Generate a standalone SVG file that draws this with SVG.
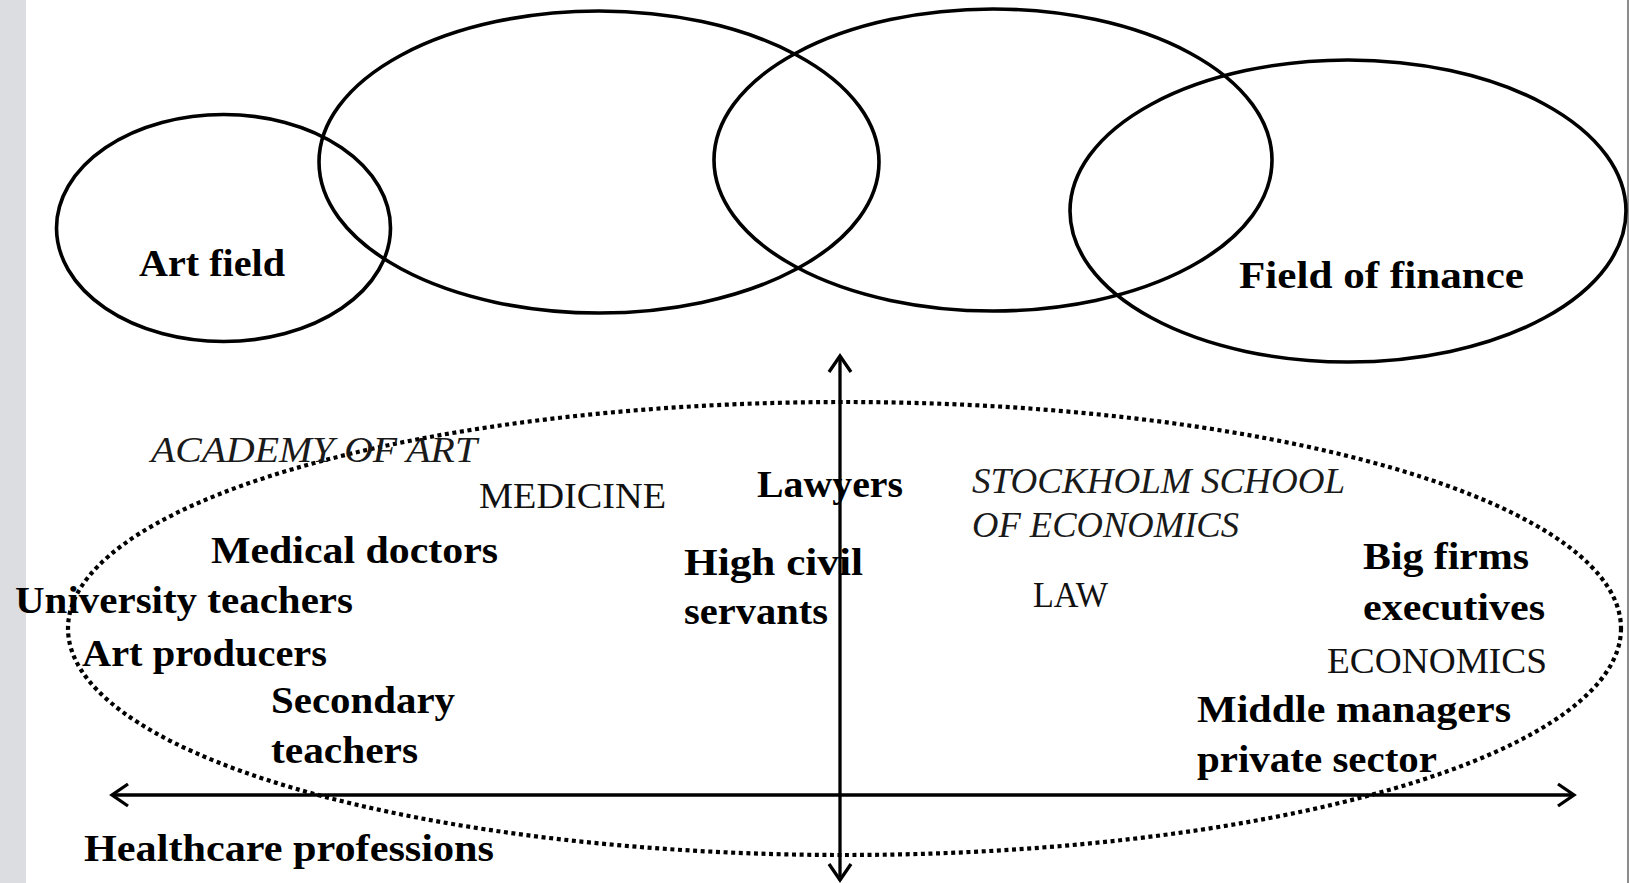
<svg xmlns="http://www.w3.org/2000/svg" width="1629" height="883" viewBox="0 0 1629 883">
  <style>
    .field { fill: none; stroke: #000; stroke-width: 3.6; }
    .dotted { fill: none; stroke: #000; stroke-width: 4.2; stroke-dasharray: 4 3.6; }
    .axis { fill: none; stroke: #000; stroke-width: 3.3; }
    .bold { font-family: "Liberation Serif", "Times New Roman", serif; font-weight: bold; font-size: 38px; fill: #000; }
    .caps { font-family: "Liberation Serif", "Times New Roman", serif; font-weight: normal; font-size: 35px; fill: #111; }
    .ital { font-family: "Liberation Serif", "Times New Roman", serif; font-style: italic; font-weight: normal; font-size: 35px; fill: #1a1a1a; }
  </style>
  <defs>
    <marker id="vhead" viewBox="0 0 24 24" markerUnits="userSpaceOnUse" markerWidth="24" markerHeight="24" refX="19" refY="12" orient="auto-start-reverse" overflow="visible">
      <path d="M3,1 L19,12 L3,23" fill="none" stroke="#000" stroke-width="3.3" stroke-linejoin="miter"/>
    </marker>
  </defs>

  <rect x="0" y="0" width="1629" height="883" fill="#fff"/>
  <rect id="side-strip" x="0" y="0" width="26" height="883" fill="#dcdde0"/>
  <line x1="1628" y1="0" x2="1628" y2="883" stroke="#666" stroke-width="1.5"/>

  <!-- top fields -->
  <g id="art-field">
    <ellipse class="field" cx="223.5" cy="228" rx="167" ry="113.5"/>
    <text class="bold" x="139" y="276" textLength="146" lengthAdjust="spacingAndGlyphs">Art field</text>
  </g>
  <g id="field-2">
    <ellipse class="field" cx="599" cy="162" rx="280" ry="151"/>
  </g>
  <g id="field-3">
    <ellipse class="field" cx="993" cy="160" rx="279" ry="151"/>
  </g>
  <g id="field-of-finance">
    <ellipse class="field" cx="1348" cy="211" rx="278" ry="151"/>
    <text class="bold" x="1239" y="288" textLength="285" lengthAdjust="spacingAndGlyphs">Field of  finance</text>
  </g>

  <!-- dotted field of power -->
  <g id="dotted-space">
    <ellipse class="dotted" cx="844.5" cy="628.5" rx="776.5" ry="226.5"/>
  </g>

  <!-- axes -->
  <g id="connectors">
    <line class="axis" x1="840" y1="880" x2="840" y2="356" marker-start="url(#vhead)" marker-end="url(#vhead)"/>
    <line class="axis" x1="112" y1="795" x2="1574" y2="795" marker-start="url(#vhead)" marker-end="url(#vhead)"/>
  </g>

  <!-- institutions -->
  <g id="academy-of-art">
    <text class="ital" x="151" y="462" textLength="326" lengthAdjust="spacingAndGlyphs" fill="#333">ACADEMY OF ART</text>
  </g>
  <g id="medicine">
    <text class="caps" x="479" y="508" textLength="187" lengthAdjust="spacingAndGlyphs">MEDICINE</text>
  </g>
  <g id="stockholm-school">
    <text class="ital" x="972" y="493" textLength="373" lengthAdjust="spacingAndGlyphs">STOCKHOLM SCHOOL</text>
    <text class="ital" x="972" y="537" textLength="267" lengthAdjust="spacingAndGlyphs">OF ECONOMICS</text>
  </g>
  <g id="law">
    <text class="caps" x="1033" y="607" textLength="75" lengthAdjust="spacingAndGlyphs">LAW</text>
  </g>
  <g id="economics">
    <text class="caps" x="1327" y="673" textLength="220" lengthAdjust="spacingAndGlyphs">ECONOMICS</text>
  </g>

  <!-- professions -->
  <g id="lawyers">
    <text class="bold" x="757" y="497" textLength="146" lengthAdjust="spacingAndGlyphs">Lawyers</text>
  </g>
  <g id="high-civil-servants">
    <text class="bold" x="684" y="575" textLength="179" lengthAdjust="spacingAndGlyphs">High civil</text>
    <text class="bold" x="684" y="624" textLength="144" lengthAdjust="spacingAndGlyphs">servants</text>
  </g>
  <g id="medical-doctors">
    <text class="bold" x="211" y="563" textLength="287" lengthAdjust="spacingAndGlyphs">Medical doctors</text>
  </g>
  <g id="university-teachers">
    <text class="bold" x="15" y="613" textLength="338" lengthAdjust="spacingAndGlyphs">University teachers</text>
  </g>
  <g id="art-producers">
    <text class="bold" x="82" y="666" textLength="245" lengthAdjust="spacingAndGlyphs">Art producers</text>
  </g>
  <g id="secondary-teachers">
    <text class="bold" x="271" y="713" textLength="184" lengthAdjust="spacingAndGlyphs">Secondary</text>
    <text class="bold" x="271" y="763" textLength="147" lengthAdjust="spacingAndGlyphs">teachers</text>
  </g>
  <g id="healthcare-professions">
    <text class="bold" x="84" y="861" textLength="410" lengthAdjust="spacingAndGlyphs">Healthcare professions</text>
  </g>
  <g id="big-firms-executives">
    <text class="bold" x="1363" y="569" textLength="166" lengthAdjust="spacingAndGlyphs">Big firms</text>
    <text class="bold" x="1363" y="620" textLength="182" lengthAdjust="spacingAndGlyphs">executives</text>
  </g>
  <g id="middle-managers">
    <text class="bold" x="1197" y="722" textLength="314" lengthAdjust="spacingAndGlyphs">Middle managers</text>
    <text class="bold" x="1197" y="772" textLength="240" lengthAdjust="spacingAndGlyphs">private sector</text>
  </g>
</svg>
